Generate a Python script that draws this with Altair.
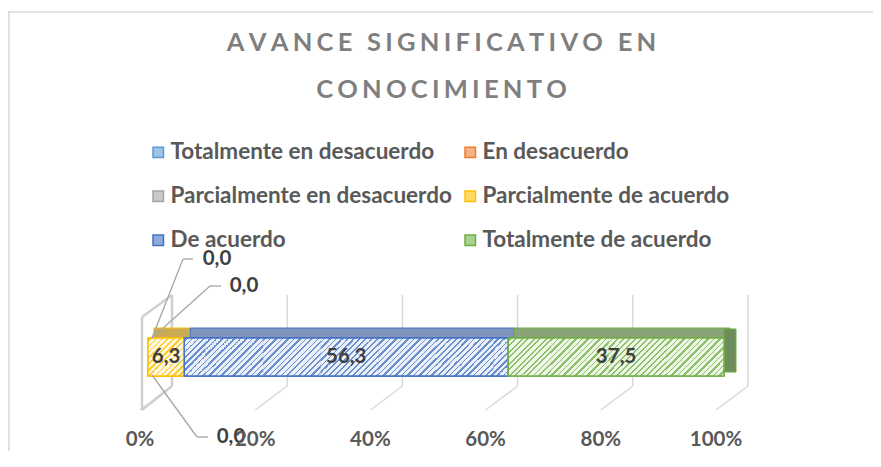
import altair as alt
import pandas as pd

# ---------------- data ----------------
categories = ["Totalmente en desacuerdo", "En desacuerdo", "Parcialmente en desacuerdo",
              "Parcialmente de acuerdo", "De acuerdo", "Totalmente de acuerdo"]
values = [0.0, 0.0, 0.0, 6.3, 56.3, 37.5]
value_labels = ["0,0", "0,0", "0,0", "6,3", "56,3", "37,5"]
tick_values = [0, 20, 40, 60, 80, 100]
tick_labels = ["0%", "20%", "40%", "60%", "80%", "100%"]
title_lines = ["AVANCE SIGNIFICATIVO EN", "CONOCIMIENTO"]

# ---------------- styles ----------------
line_colors = ["#5B9BD5", "#ED7D31", "#A5A5A5", "#FFC000", "#4472C4", "#70AD47"]
stripe_colors = ["#7aafdd", "#f09556", "#b5b5b5", "#ffca2e", "#6a8fd1", "#8bbf68"]
fill_colors = ["#9dc3e6", "#f4b183", "#c9c9c9", "#ffd966", "#8faadc", "#a9d18e"]
tint_colors = ["#edf4fa", "#fcebdf", "#f2f2f2", "#fff8df", "#ebf0f9", "#eef6e8"]
top_colors = ["#7fa6cf", "#c98a5e", "#9a9a9a", "#c9aa55", "#8194c0", "#8aa379"]
side_color = "#6f8d5b"
FONT = "Lato"
W, H = 865, 440
X0, X1 = 140, 716          # pixel range of the value axis (front plane)
BAR_TOP, BAR_BOT = 327, 365
PERIOD, DARK = 6.0, 2.0    # hatch period and dark width (px, integers -> even rendering)

total = sum(values)
starts, ends = [], []
acc = 0.0
for v in values:
    starts.append(acc / total * 100)
    acc += v
    ends.append(acc / total * 100)

df = pd.DataFrame({
    "category": categories,
    "value": values,
    "label": value_labels,
    "start": starts,
    "end": ends,
    "mid": [(s + e) / 2 for s, e in zip(starts, ends)],
    "line": line_colors,
    "top": top_colors,
})
ticks = pd.DataFrame({"v": tick_values, "t": tick_labels})
one = pd.DataFrame({"d": [0]})

xs = alt.Scale(domain=[0, 100], range=[X0, X1], nice=False, zero=False)


def px(u):
    return X0 + u / 100 * (X1 - X0)


def X(field):
    return alt.X(f"{field}:Q", scale=xs, axis=None)


def X2(field):
    return alt.X2(f"{field}:Q")


def stripes(xl, w, h, light, dark):
    """Diagonal hatch (///) as a hard-stop linear gradient over a rect's bounding box."""
    S = w + h
    x2 = w * S / (w * w + h * h)
    y2 = h * S / (w * w + h * h)
    bounds = []
    m = int(xl // PERIOD) - 1
    while m * PERIOD - DARK - xl < S:
        for b in (m * PERIOD - DARK - xl, m * PERIOD - xl):
            if 0 < b < S:
                bounds.append(b)
        m += 1
    bounds.sort()
    dark_now = ((xl % PERIOD) >= PERIOD - DARK)
    col = dark if dark_now else light
    stops = [{"offset": 0, "color": col}]
    for b in bounds:
        stops.append({"offset": round(b / S, 6), "color": col})
        dark_now = not dark_now
        col = dark if dark_now else light
        stops.append({"offset": round(b / S, 6), "color": col})
    stops.append({"offset": 1, "color": col})
    return {"gradient": "linear", "x1": 0, "y1": 0, "x2": x2, "y2": y2, "stops": stops}


GRID = "#d9d9d9"

# chart border (top and left edges)
border_top = alt.Chart(one).mark_rule(color=GRID, strokeWidth=1.5).encode(
    x=alt.value(0), x2=alt.value(W), y=alt.value(1))
border_left = alt.Chart(one).mark_rule(color=GRID, strokeWidth=1.5).encode(
    x=alt.value(1), y=alt.value(0), y2=alt.value(H))

# 3D gridlines: back vertical + floor diagonal
grid_v = alt.Chart(ticks).mark_rule(color=GRID, strokeWidth=1.5, xOffset=24).encode(
    x=X("v"), y=alt.value(284), y2=alt.value(375))
grid_d = alt.Chart(ticks).mark_rule(color=GRID, strokeWidth=1.5, xOffset=24, x2Offset=-8).encode(
    x=X("v"), x2=X2("v"), y=alt.value(375), y2=alt.value(399))

# side wall at 0%
wall_src = ticks[ticks["v"] == 0]
WALL = "#cfcfcf"
wall_l = alt.Chart(wall_src).mark_rule(color=WALL, strokeWidth=2.5, xOffset=-6).encode(
    x=X("v"), y=alt.value(306), y2=alt.value(399))
wall_t = alt.Chart(wall_src).mark_rule(color=WALL, strokeWidth=2.5, xOffset=-6, x2Offset=24).encode(
    x=X("v"), x2=X2("v"), y=alt.value(306), y2=alt.value(284))
wall_r = alt.Chart(wall_src).mark_rule(color=WALL, strokeWidth=2.5, xOffset=24).encode(
    x=X("v"), y=alt.value(284), y2=alt.value(375))
wall_b = alt.Chart(wall_src).mark_rule(color=WALL, strokeWidth=2.5, xOffset=24, x2Offset=-6).encode(
    x=X("v"), x2=X2("v"), y=alt.value(375), y2=alt.value(399))

pos = alt.Chart(df).transform_filter("datum.value > 0")

# top faces of the 3D bar
top_face = pos.mark_rect(xOffset=6, x2Offset=6, strokeWidth=1).encode(
    x=X("start"), x2=X2("end"), y=alt.value(BAR_TOP - 10), y2=alt.value(BAR_TOP),
    fill=alt.Fill("top:N", scale=None), stroke=alt.Stroke("line:N", scale=None))

# right side face of last segment
side_face = alt.Chart(df).transform_filter("datum.end >= 99.9").mark_rect(
    x2Offset=12, strokeWidth=1, fill=side_color, stroke="#70AD47").encode(
    x=X("end"), x2=X2("end"), y=alt.value(BAR_TOP - 9), y2=alt.value(BAR_BOT - 4))

legend = alt.Legend(
    orient="none", legendX=139, legendY=130, columns=2, direction="horizontal", title=None,
    symbolType="square", symbolSize=110, symbolStrokeWidth=1.5,
    labelFont=FONT, labelFontSize=22.5, labelFontWeight="bold", labelColor="#595959",
    rowPadding=21, columnPadding=7, labelOffset=1, labelLimit=500, padding=0)

front_face = pos.mark_rect(strokeWidth=1.5).encode(
    x=X("start"), x2=X2("end"), y=alt.value(BAR_TOP), y2=alt.value(BAR_BOT),
    fill=alt.Fill("category:N", scale=alt.Scale(domain=categories, range=fill_colors),
                  legend=legend),
    stroke=alt.Stroke("category:N", scale=alt.Scale(domain=categories, range=line_colors),
                      legend=legend))

# hatched overlay: each visible segment split in short chunks (keeps gradients crisp)
hatch_layers = []
CHUNK = 10.0
for i in range(len(df)):
    if values[i] <= 0:
        continue
    a = starts[i]
    while a < ends[i] - 1e-9:
        b = min(ends[i], (int(a // CHUNK) + 1) * CHUNK)
        cdf = pd.DataFrame({"start": [a], "end": [b]})
        xl = px(a)
        w_px = px(b) - xl
        hatch_layers.append(alt.Chart(cdf).mark_rect(
            fill=stripes(xl, w_px, BAR_BOT - BAR_TOP, tint_colors[i], stripe_colors[i]),
            strokeWidth=0).encode(
            x=X("start"), x2=X2("end"), y=alt.value(BAR_TOP), y2=alt.value(BAR_BOT)))
        a = b

outline = pos.mark_rect(fillOpacity=0, strokeWidth=1.5).encode(
    x=X("start"), x2=X2("end"), y=alt.value(BAR_TOP), y2=alt.value(BAR_BOT),
    stroke=alt.Stroke("line:N", scale=None))

value_text = pos.mark_text(font=FONT, fontSize=20.5, fontWeight="bold", color="#404040",
                           baseline="middle").encode(
    x=X("mid"), y=alt.value(346), text="label:N")

# zero-value labels with leader lines
zero = df[df["value"] == 0].reset_index(drop=True)
label_dx = [69, 96, 83]
label_y = [248, 275, 426]
leader_y0 = [BAR_TOP, BAR_TOP, BAR_BOT - 1]
leader_bend = [35, 62, 49]
leader_end = [45, 73, 60]
LEAD = "#a6a6a6"
zero_layers = []
for i in range(len(zero)):
    src = alt.Chart(zero.iloc[[i]])
    zero_layers.append(src.mark_rule(color=LEAD, strokeWidth=1.3, xOffset=4, x2Offset=leader_bend[i]).encode(
        x=X("start"), x2=X2("start"), y=alt.value(leader_y0[i]), y2=alt.value(label_y[i])))
    zero_layers.append(src.mark_rule(color=LEAD, strokeWidth=1.3, xOffset=leader_bend[i],
                                     x2Offset=leader_end[i]).encode(
        x=X("start"), x2=X2("start"), y=alt.value(label_y[i])))
    zero_layers.append(src.mark_text(font=FONT, fontSize=20.5, fontWeight="bold", color="#404040",
                                     baseline="middle", dx=label_dx[i]).encode(
        x=X("start"), y=alt.value(label_y[i]), text="label:N"))

# axis tick labels
axis_text = alt.Chart(ticks).mark_text(font=FONT, fontSize=20.5, fontWeight="bold", color="#595959",
                                       baseline="middle", dx=-8).encode(
    x=X("v"), y=alt.value(429), text="t:N")

# title (letter-spaced)
SP = "\u2006"
title_layers = []
for i, line in enumerate(title_lines):
    spaced = SP.join(list(line))
    tdf = pd.DataFrame({"t": [spaced]})
    title_layers.append(alt.Chart(tdf).mark_text(
        font=FONT, fontSize=25.5, fontWeight="bold", color="#7f7f7f",
        baseline="middle", align="center").encode(
        x=alt.value(W / 2 + 1), y=alt.value([31.5, 79][i]), text="t:N"))

chart = alt.layer(
    border_top, border_left, grid_v, grid_d, wall_l, wall_t, wall_r, wall_b,
    top_face, side_face, front_face, *hatch_layers, outline, value_text, *zero_layers,
    axis_text, *title_layers
).properties(
    width=W, height=H,
    autosize=alt.AutoSizeParams(type="none"),
    padding={"left": 0, "top": 3, "right": 0, "bottom": 0},
).configure_view(stroke=None)

chart.save("out.html", embed_options={"renderer": "svg", "actions": False})
